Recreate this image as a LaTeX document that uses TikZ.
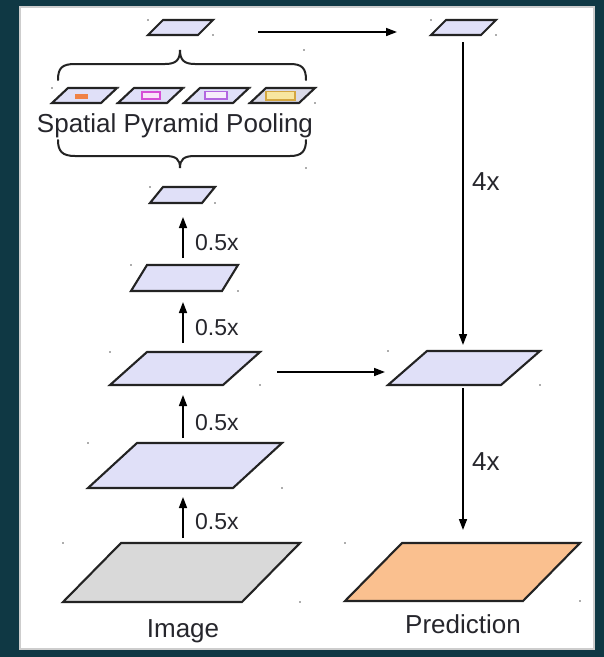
\documentclass[tikz,border=0pt]{standalone}
\usepackage{fontspec}
\setmainfont{Liberation Sans}
\usetikzlibrary{arrows.meta}
\definecolor{bgteal}{RGB}{15,56,68}
\definecolor{panelline}{RGB}{205,205,205}
\definecolor{lav}{RGB}{224,224,248}
\definecolor{lavgray}{RGB}{218,218,232}
\definecolor{imggray}{RGB}{217,217,217}
\definecolor{predorange}{RGB}{250,192,143}
\definecolor{outline}{RGB}{35,35,35}
\definecolor{txt}{RGB}{38,38,44}
\definecolor{dotc}{RGB}{90,90,90}
\definecolor{sppor}{RGB}{240,130,70}
\definecolor{sppmag}{RGB}{214,80,214}
\definecolor{sppvio}{RGB}{178,102,224}
\definecolor{sppgold}{RGB}{212,166,64}
\definecolor{sppyel}{RGB}{248,230,160}
\newcommand\paral[7]{%
  \draw[parastyle, fill=#7] (#2,#3) -- ++(#4,0) -- ++(#5,-#6) -- ++(-#4,0) -- cycle;
  \coordinate (#1) at ({#2+#4/2+#5/2},{#3-#6/2});
  \fill[dotc] (#2,{#3-#6}) circle[radius=0.8pt];
  \fill[dotc] ({#2+#4+#5},#3) circle[radius=0.8pt];
}
\begin{document}
\begin{tikzpicture}[x=1pt,y=-1pt,
  parastyle/.style={draw=outline, line width=2.1pt, line join=miter},
  arr/.style={draw=black, line width=1.6pt, -{Triangle[length=11pt,width=8pt]}},
  brc/.style={draw=outline, line width=2pt, line cap=round},
  lbl/.style={text=txt, inner sep=0pt, font=\fontsize{26}{30}\selectfont},
  slbl/.style={text=txt, inner sep=0pt, font=\fontsize{23}{27}\selectfont}]
\useasboundingbox (0,0) rectangle (604,657);
\fill[bgteal] (0,0) rectangle (604,657);
\draw[draw=panelline, fill=white, line width=1.5pt] (20,7) rectangle (594,649);

% left column
\paral{L5}{148}{35}{50}{15}{15}{lav}
\paral{L4}{150}{203}{52}{13}{16}{lav}
\paral{L3}{131}{291}{91}{16}{26}{lav}
\paral{L2}{110}{385}{113}{37}{33}{lav}
\paral{L1}{88}{488}{145}{49}{45}{lav}
\paral{G}{63}{602}{179}{58}{59}{imggray}
% right column
\paral{R1}{431}{35}{50}{15}{15}{lav}
\paral{R2}{388}{385}{113}{39}{34}{lav}
\paral{P}{345}{601}{178}{57}{58}{predorange}
% SPP
\paral{S1}{52}{103}{49}{16}{15}{lav}
\paral{S2}{118}{103}{49}{16}{15}{lav}
\paral{S3}{184}{103}{49}{16}{15}{lav}
\paral{S4}{250}{103}{49}{16}{15}{lavgray}
\fill[sppor] (75,94) rectangle (88,98.5);
\draw[sppmag, line width=1.6pt, fill=sppmag!15] (142,92) rectangle (160,99);
\draw[sppvio, line width=1.6pt, fill=sppvio!12] (205,91.5) rectangle (227,99);
\draw[sppgold, line width=1.6pt, fill=sppyel] (266,91.5) rectangle (295,100);

% braces
\draw[brc] (58,80) .. controls (58,68) and (62,64) .. (75,64) -- (165,64)
  .. controls (176,64) and (180,60) .. (180,50)
  .. controls (180,60) and (184,64) .. (195,64) -- (290,64)
  .. controls (302,64) and (306,68) .. (306,80);
\draw[brc] (58,140) .. controls (58,151) and (62,156) .. (75,156) -- (165,156)
  .. controls (176,156) and (180,159) .. (180,168)
  .. controls (180,159) and (184,156) .. (195,156) -- (290,156)
  .. controls (302,156) and (306,151) .. (306,140);
\fill[dotc] (304,50) circle[radius=0.8pt];
\fill[dotc] (306,168) circle[radius=0.8pt];

% SPP label
\node[lbl, anchor=base] (spp) at (175,132) {Spatial Pyramid Pooling};

% arrow end points
\coordinate (a1s) at (183,538); \coordinate (a1e) at (183,497);
\coordinate (a2s) at (183,438); \coordinate (a2e) at (183,395);
\coordinate (a3s) at (183,343); \coordinate (a3e) at (183,302);
\coordinate (a4s) at (183,258); \coordinate (a4e) at (183,217);
\coordinate (h1s) at (258,32);  \coordinate (h1e) at (397,32);
\coordinate (h2s) at (277,372); \coordinate (h2e) at (385,372);
\coordinate (v1s) at (463,42);  \coordinate (v1e) at (463,345);
\coordinate (v2s) at (463,388); \coordinate (v2e) at (463,530);

\draw[arr] (a1s) -- (a1e);
\draw[arr] (a2s) -- (a2e);
\draw[arr] (a3s) -- (a3e);
\draw[arr] (a4s) -- (a4e);
\draw[arr] (h1s) -- (h1e);
\draw[arr] (h2s) -- (h2e);
\draw[arr] (v1s) -- (v1e);
\draw[arr] (v2s) -- (v2e);

% labels
\node[slbl, anchor=base west] (l1) at (195,529) {0.5x};
\node[slbl, anchor=base west] (l2) at (195,430) {0.5x};
\node[slbl, anchor=base west] (l3) at (195,335) {0.5x};
\node[slbl, anchor=base west] (l4) at (195,250) {0.5x};
\node[lbl, anchor=base west] (r1) at (472,190) {4x};
\node[lbl, anchor=base west] (r2) at (472,470) {4x};
\node[lbl, anchor=base] (img) at (183,637) {Image};
\node[lbl, anchor=base] (pred) at (463,633) {Prediction};
\end{tikzpicture}
\end{document}
